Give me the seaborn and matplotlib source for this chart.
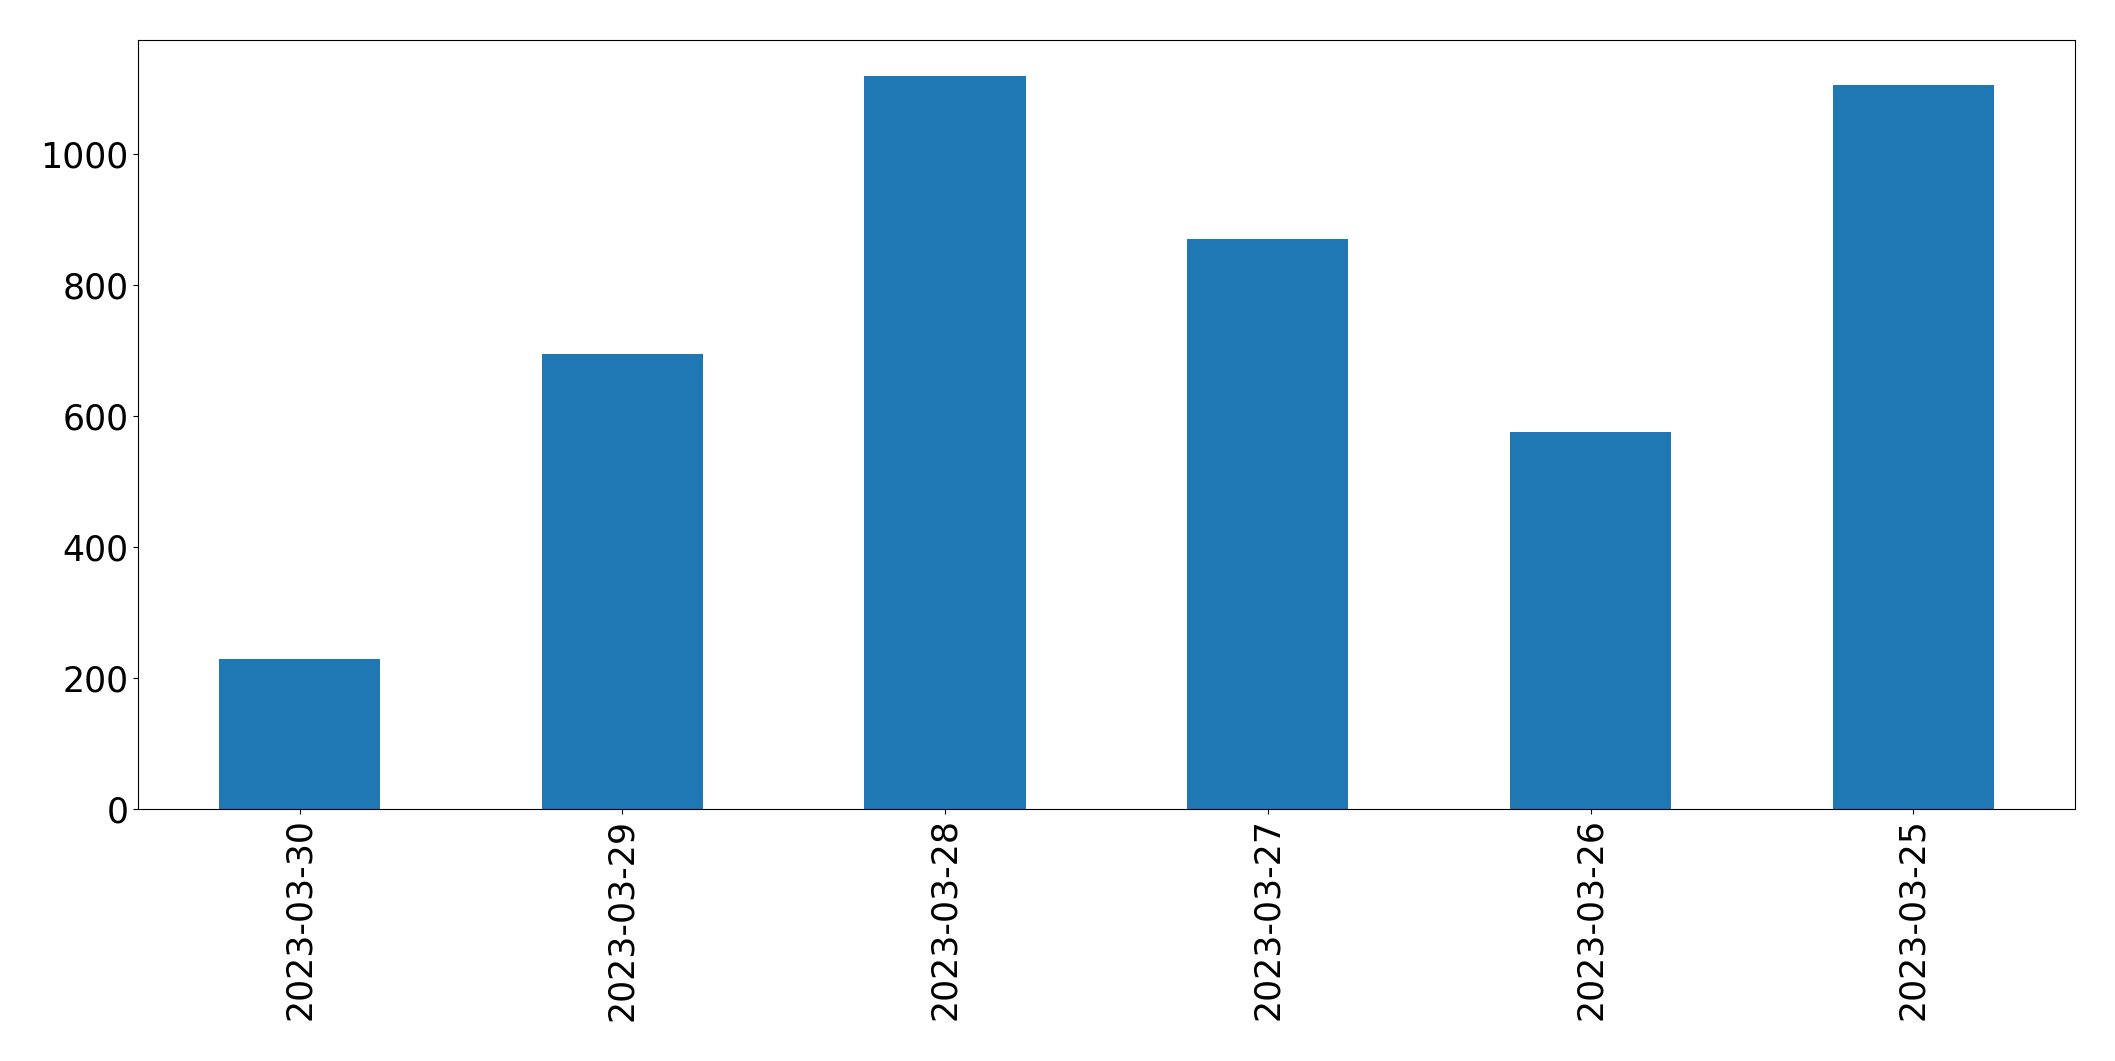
import matplotlib
matplotlib.use("Agg")
import matplotlib.pyplot as plt
import pandas as pd
import seaborn as sns

# Data
dates = ["2023-03-30", "2023-03-29", "2023-03-28", "2023-03-27", "2023-03-26", "2023-03-25"]
values = [228, 694, 1118, 869, 575, 1104]

df = pd.DataFrame({"date": dates, "value": values})

fig = plt.figure(figsize=(21.15, 10.61), dpi=100)
ax = fig.add_axes([0.0654, 0.2378, 0.9155, 0.7249])
sns.barplot(data=df, x="date", y="value", order=dates, color="#1f77b4",
            saturation=1, width=0.5, errorbar=None, ax=ax)

ax.set_xlim(-0.5, len(dates) - 0.5)
ax.set_ylim(0, max(values) * 1.05)
ax.set_xlabel("")
ax.set_ylabel("")
ax.tick_params(axis="both", labelsize=25)
ax.tick_params(axis="x", labelrotation=90)

fig.savefig("out.png", dpi=100)
